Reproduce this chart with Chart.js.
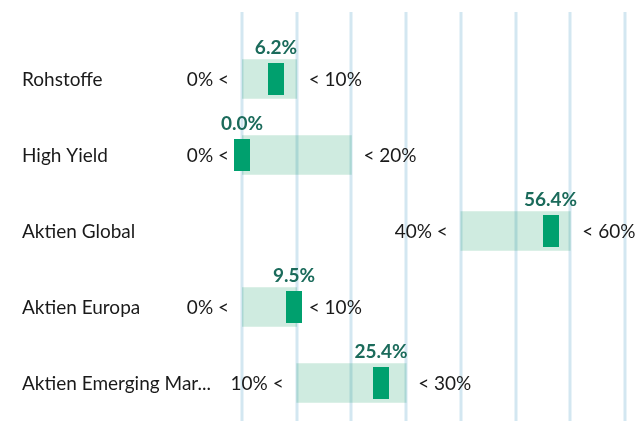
<!DOCTYPE html>
<html>
<head>
<meta charset="utf-8">
<script src="https://cdn.jsdelivr.net/npm/chart.js@4/dist/chart.umd.min.js"></script>
<style>
  html, body { margin: 0; padding: 0; background: #fff; }
  #wrap { width: 635px; height: 421px; position: relative; }
</style>
</head>
<body>
<div id="wrap"><canvas id="chart"></canvas></div>
<script>
var kategorien = ['Rohstoffe', 'High Yield', 'Aktien Global', 'Aktien Europa', 'Aktien Emerging Mar...'];
var untergrenze = [0, 0, 40, 0, 10];
var obergrenze = [10, 20, 60, 10, 30];
var werte = [6.2, 0.0, 56.4, 9.5, 25.4];

var fontName = 'Lato, "Open Sans", sans-serif';

// Bereiche als schwebende Balken
var bereiche = [];
untergrenze.forEach(function (lo, i) {
    bereiche.push([lo, obergrenze[i]]);
});

var beschriftungPlugin = {
    id: 'beschriftung',
    beforeDatasetsDraw: function (chart) {
        var ctx = chart.ctx;
        var x = chart.scales.x;
        ctx.save();
        ctx.strokeStyle = '#d3e7f1';
        ctx.lineWidth = 3;
        x.ticks.forEach(function (t) {
            var px = Math.round(x.getPixelForValue(t.value));
            ctx.beginPath();
            ctx.moveTo(px, 12);
            ctx.lineTo(px, chart.height);
            ctx.stroke();
        });
        ctx.restore();
    },
    afterDatasetsDraw: function (chart) {
        var ctx = chart.ctx;
        var x = chart.scales.x;
        var y = chart.scales.y;
        ctx.save();
        kategorien.forEach(function (name, i) {
            var py = y.getPixelForValue(i);
            var pLo = x.getPixelForValue(untergrenze[i]);
            var pHi = x.getPixelForValue(obergrenze[i]);
            var pv = x.getPixelForValue(werte[i]);

            // Marker
            ctx.fillStyle = '#00a06e';
            ctx.fillRect(Math.round(pv - 8), Math.round(py - 16), 16, 32);

            ctx.textBaseline = 'middle';
            ctx.fillStyle = '#1a1a1a';
            ctx.font = '19px ' + fontName;
            ctx.textAlign = 'left';
            ctx.fillText(name, 22, py + 1);

            ctx.textAlign = 'right';
            ctx.fillText(untergrenze[i] + '% <', pLo - 13, py + 1);
            ctx.textAlign = 'left';
            ctx.fillText('< ' + obergrenze[i] + '%', pHi + 12, py + 1);

            // Wert über dem Balken
            ctx.font = 'bold 19px ' + fontName;
            ctx.fillStyle = '#1b6b5b';
            ctx.textAlign = 'center';
            ctx.textBaseline = 'alphabetic';
            ctx.fillText(werte[i].toFixed(1) + '%', pv, py - 25);
        });
        ctx.restore();
    }
};

new Chart(document.getElementById('chart'), {
    type: 'bar',
    data: {
        labels: kategorien,
        datasets: [{
            label: 'Bereich',
            data: bereiche,
            backgroundColor: 'rgba(0, 150, 90, 0.19)',
            borderWidth: 0,
            barThickness: 39
        }]
    },
    options: {
        indexAxis: 'y',
        responsive: true,
        maintainAspectRatio: false,
        animation: false,
        layout: { padding: { left: 242, right: 10, top: 41, bottom: 0 } },
        plugins: {
            legend: { display: false },
            tooltip: { enabled: false }
        },
        scales: {
            x: {
                display: false,
                min: 0,
                max: 70,
                ticks: { stepSize: 10 }
            },
            y: { display: false }
        }
    },
    plugins: [beschriftungPlugin]
});
</script>
</body>
</html>
